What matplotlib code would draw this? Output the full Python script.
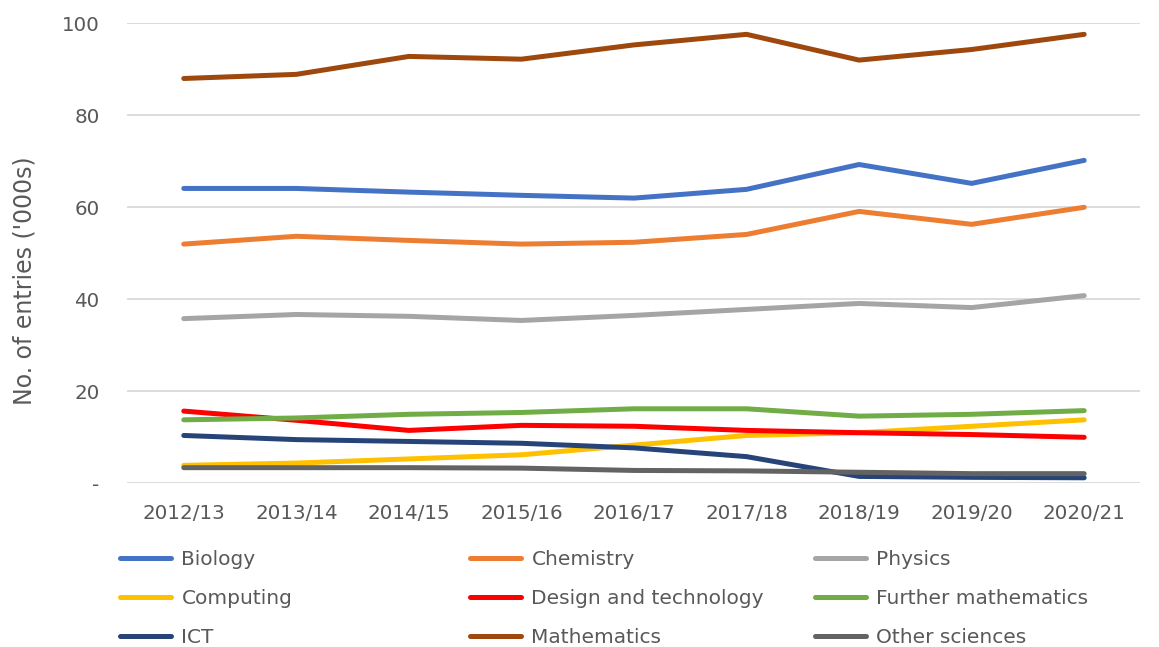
import matplotlib.pyplot as plt
from matplotlib.ticker import FuncFormatter
from matplotlib.lines import Line2D

years = ['2012/13', '2013/14', '2014/15', '2015/16', '2016/17',
         '2017/18', '2018/19', '2019/20', '2020/21']

biology = [64.1, 64.1, 63.3, 62.6, 62.0, 63.9, 69.3, 65.2, 70.2]
chemistry = [52.0, 53.7, 52.8, 52.0, 52.4, 54.1, 59.1, 56.3, 60.0]
physics = [35.8, 36.7, 36.3, 35.4, 36.5, 37.8, 39.1, 38.2, 40.8]
computing = [3.9, 4.4, 5.3, 6.2, 8.3, 10.4, 11.0, 12.4, 13.8]
design_tech = [15.7, 13.7, 11.5, 12.6, 12.4, 11.5, 11.0, 10.6, 10.0]
further_maths = [13.8, 14.2, 15.0, 15.4, 16.2, 16.2, 14.6, 15.0, 15.8]
ict = [10.4, 9.5, 9.1, 8.7, 7.7, 5.8, 1.5, 1.3, 1.2]
mathematics = [88.0, 88.9, 92.8, 92.2, 95.3, 97.6, 92.0, 94.3, 97.6]
other_sci = [3.4, 3.4, 3.4, 3.3, 2.8, 2.7, 2.4, 2.1, 2.1]

series = [
    ('Biology', biology, '#4472C4'),
    ('Chemistry', chemistry, '#ED7D31'),
    ('Physics', physics, '#A5A5A5'),
    ('Computing', computing, '#FFC000'),
    ('Design and technology', design_tech, '#FF0000'),
    ('Further mathematics', further_maths, '#70AD47'),
    ('ICT', ict, '#264478'),
    ('Mathematics', mathematics, '#9E480E'),
    ('Other sciences', other_sci, '#636363'),
]

txt = '#595959'
fig = plt.figure(figsize=(11.59, 6.47), dpi=100)
ax = fig.add_axes([0.110, 0.253, 0.874, 0.711])

x = list(range(len(years)))
for name, vals, col in series:
    ax.plot(x, vals, color=col, lw=3.6, solid_capstyle='round',
            solid_joinstyle='round', label=name)

ax.set_xlim(-0.5, len(years) - 0.5)
ax.set_ylim(0, 100)
ax.set_yticks([0, 20, 40, 60, 80, 100])
ax.yaxis.set_major_formatter(FuncFormatter(lambda v, p: '-' if v == 0 else '%d' % v))
ax.set_xticks(x)
ax.set_xticklabels(years)
ax.grid(axis='y', color='#D9D9D9', lw=1.3)
ax.set_axisbelow(True)
for s in ax.spines.values():
    s.set_visible(False)
ax.tick_params(length=0, labelsize=14.3, colors=txt)
ax.tick_params(axis='x', pad=15)
ax.tick_params(axis='y', pad=20)
ax.set_ylabel("No. of entries ('000s)", fontsize=17, color=txt)
ax.yaxis.set_label_coords(-0.09, 0.441)

# legend laid out row by row like the original, one legend per column
col_x = [0.1035, 0.4055, 0.703]
for c in range(3):
    hs = [Line2D([], [], color=series[r * 3 + c][2], lw=3.6, solid_capstyle='round')
          for r in range(3)]
    ls = [series[r * 3 + c][0] for r in range(3)]
    fig.legend(hs, ls, loc='upper left', bbox_to_anchor=(col_x[c], 0.150),
               frameon=False, fontsize=14.5, labelcolor=txt, handlelength=2.55,
               handletextpad=0.5, labelspacing=1.0, borderpad=0, borderaxespad=0)

fig.savefig('out.png', dpi=100)
